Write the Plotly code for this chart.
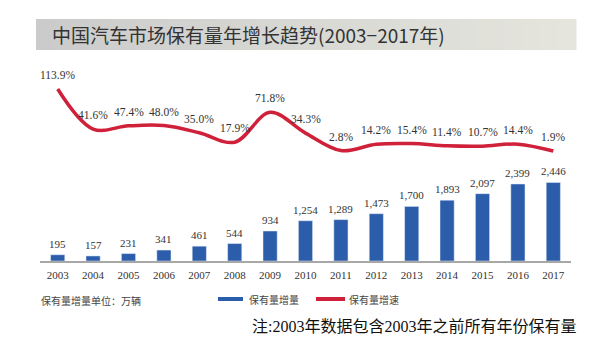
import plotly.graph_objects as go

years = [str(y) for y in range(2003, 2018)]
increment = [195, 157, 231, 341, 461, 544, 934, 1254, 1289, 1473, 1700, 1893, 2097, 2399, 2446]
growth = [113.9, 41.6, 47.4, 48.0, 35.0, 17.9, 71.8, 34.3, 2.8, 14.2, 15.4, 11.4, 10.7, 14.4, 1.9]

title_text = "中国汽车市场保有量年增长趋势(2003−2017年)"
unit_text = "保有量增量单位：万辆"
bar_name = "保有量增量"
line_name = "保有量增速"
note_text = "注:2003年数据包含2003年之前所有年份保有量"

W, H = 603, 363
ML, MR, MT, MB = 32, 40, 60, 110
PW, PH = W - ML - MR, H - MT - MB

def px(x):
    return (x - ML) / PW

def py(y):
    return (H - MB - y) / PH

BLUE = "#2b5dab"
RED = "#d0213a"
TXT = "#333333"
SERIF = "Liberation Serif, Times New Roman, serif"
CJK = "Noto Sans CJK SC, sans-serif"

fig = go.Figure()
fig.add_trace(go.Bar(x=years, y=increment, marker_color=BLUE, name=bar_name,
                     showlegend=False, hoverinfo="skip"))
fig.add_trace(go.Scatter(x=years, y=growth, mode="lines", yaxis="y2",
                         line=dict(color=RED, width=3.5, shape="spline", smoothing=1.0),
                         name=line_name, showlegend=False, hoverinfo="skip"))

annotations = []
for i, v in enumerate(increment):
    annotations.append(dict(x=i, y=v, xref="x", yref="y", text=f"{v:,}", showarrow=False,
                            yanchor="middle", yshift=11,
                            font=dict(family=SERIF, size=11, color=TXT)))
for i, v in enumerate(growth):
    annotations.append(dict(x=i, y=v, xref="x", yref="y2", text=f"{v:.1f}%", showarrow=False,
                            yanchor="middle", yshift=14,
                            font=dict(family=SERIF, size=11.5, color=TXT)))

# title
annotations.append(dict(x=px(42), y=py(26.5), xref="paper", yref="paper", text=title_text,
                        showarrow=False, xanchor="left", yanchor="middle",
                        font=dict(family=CJK, size=19, color=TXT)))
# unit
annotations.append(dict(x=px(31), y=py(292.5), xref="paper", yref="paper", text=unit_text,
                        showarrow=False, xanchor="left", yanchor="middle",
                        font=dict(family=CJK, size=10, color="#444")))
annotations.append(dict(x=px(239), y=py(291.5), xref="paper", yref="paper", text=bar_name,
                        showarrow=False, xanchor="left", yanchor="middle",
                        font=dict(family=CJK, size=10, color="#444")))
annotations.append(dict(x=px(339), y=py(291.5), xref="paper", yref="paper", text=line_name,
                        showarrow=False, xanchor="left", yanchor="middle",
                        font=dict(family=CJK, size=10, color="#444")))
# note
annotations.append(dict(x=px(570), y=py(318), xref="paper", yref="paper", text=note_text,
                        showarrow=False, xanchor="right", yanchor="middle",
                        font=dict(family="Liberation Serif, Noto Sans CJK SC, serif", size=16, color="#111")))

shapes = []
# title band gradient
x0, x1, n = 28, 568, 60
c0, c1 = (203, 203, 203), (229, 229, 221)
for i in range(n):
    t = i / (n - 1)
    c = tuple(round(a + (b - a) * t) for a, b in zip(c0, c1))
    xa = x0 + (x1 - x0) * i / n
    xb = x0 + (x1 - x0) * (i + 1) / n + 0.5
    shapes.append(dict(type="rect", xref="paper", yref="paper", x0=px(xa), x1=px(xb),
                       y0=py(42), y1=py(11), line=dict(width=0),
                       fillcolor=f"rgb{c}", layer="below"))
# legend symbols
shapes.append(dict(type="line", xref="paper", yref="paper", x0=px(210), x1=px(235),
                   y0=py(291), y1=py(291), line=dict(color=BLUE, width=4)))
shapes.append(dict(type="line", xref="paper", yref="paper", x0=px(308), x1=px(337),
                   y0=py(291), y1=py(291), line=dict(color=RED, width=4)))

fig.update_layout(
    width=W, height=H,
    margin=dict(l=ML, r=MR, t=MT, b=MB, pad=0),
    paper_bgcolor="white", plot_bgcolor="white",
    bargap=0.6,
    showlegend=False,
    xaxis=dict(type="category", range=[-0.5, len(years) - 0.5], autorange=False,
               showgrid=False, zeroline=False, showline=True,
               linecolor="#a8a8a8", linewidth=1.5, ticks="", ticklabelstandoff=3,
               tickfont=dict(family=SERIF, size=11, color=TXT)),
    yaxis=dict(range=[0, 6012], visible=False, showgrid=False, zeroline=False),
    yaxis2=dict(range=[-196.7, 151.9], overlaying="y", visible=False,
                showgrid=False, zeroline=False),
    annotations=annotations,
    shapes=shapes,
)

fig.write_html("out.html")
